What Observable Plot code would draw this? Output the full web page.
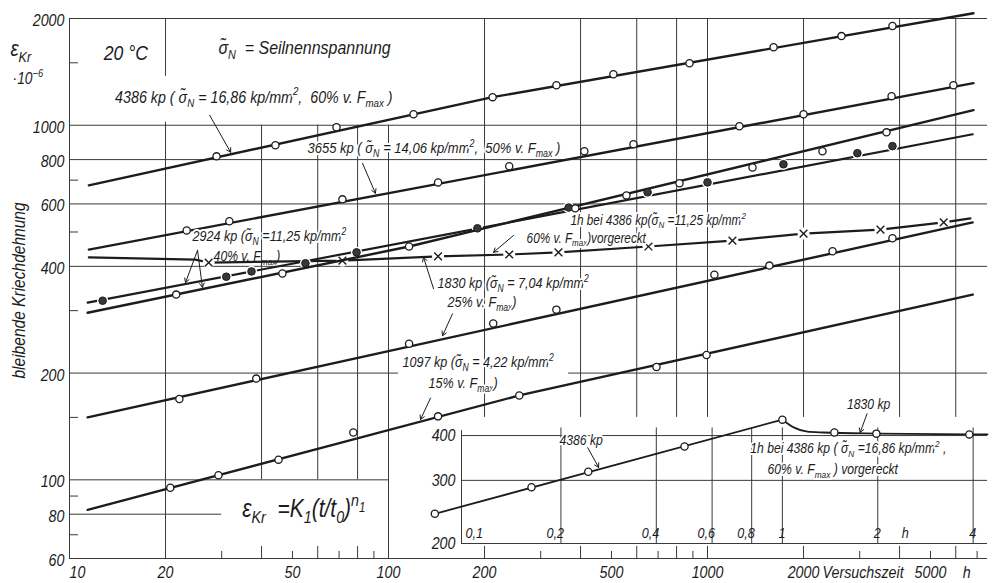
<!DOCTYPE html>
<html><head><meta charset="utf-8">
<script src="https://cdn.jsdelivr.net/npm/d3@7"></script>
<script src="https://cdn.jsdelivr.net/npm/@observablehq/plot@0.6"></script>
<style>
body{margin:0;background:#fff;}
#wrap{position:relative;width:994px;height:583px;overflow:hidden;}
#wrap svg{position:absolute;overflow:visible;}
</style></head><body><div id="wrap"></div>
<script>
// ---------- main chart data: [Versuchszeit t (h), Kriechdehnung eps (1e-6)] ----------
const s4386Points = [[28.9,817],[44.2,878],[68.7,987],[119.8,1074],[212,1200],[336,1297],[507,1393],[878,1496],[1611,1660],[2630,1784],[3800,1905]];
const s4386Line = [[11.5,677],[212,1200],[6820,2070]];
const s3655Points = [[23.3,505],[31.7,536],[71.7,618],[143,690],[239,766],[411,845],[586,884],[1259,993],[2000,1074],[3776,1208],[5900,1297]];
const s3655Line = [[11.5,446],[6820,1314]];
const s2924OpenPoints = [[21.6,333],[46.5,382],[116,455],[385,583],[557,634],[817,686],[1384,760],[2293,845],[3640,955]];
const s2924OpenLine = [[11.4,296],[116,455],[6820,1103]];
const s2924FilledPoints = [[12.7,320],[31.0,374],[37.2,387],[54.9,408],[79.4,438],[190,512],[367,586],[649,647],[1000,690],[1730,776],[2950,834],[3800,873]];
const s2924FilledLine = [[11.4,316],[6780,943]];
const s1830Points = [[22.1,169],[38.5,193],[116,242],[213,276],[336,302],[1051,379],[1563,402],[2466,441],[3800,480]];
const s1830Line = [[11.4,150],[6780,532]];
const s1097Points = [[20.7,95],[29.3,103],[45.2,114],[77.6,136],[143,151],[257,173],[692,208],[993,225]];
const s1097Line = [[11.4,82.3],[257,173],[6780,333]];
const s1830PreXPoints = [[27.3,410],[71.7,415],[143,427],[239,432],[341,438],[653,455],[1197,473],[2000,495],[3485,508],[5500,532]];
const s1830PreLine = [[11.5,424],[24.8,418],[27.3,410],[71.7,415],[143,427],[239,432],[341,438],[653,455],[1197,473],[2000,495],[3485,508],[5500,532],[6670,546]];

// ---------- inset data: [t (h), eps] ----------
const insetLoadPoints = [[0.080,242],[0.1615,287],[0.244,317],[0.491,373],[1.0,443]];
const insetLoadLine = [[0.080,242],[1.0,443]];
const insetHoldPoints = [[1.459,408],[1.98,405],[3.89,403]];
const insetHoldLine = [[1.0,443],[1.09,421],[1.2,410],[1.35,408],[2,405],[3.89,403],[4.44,403]];

// ---------- axes / ticks ----------
const xDomain = [10, 7546];
const yDomain = [60, 2000];
const yTickLabels = [60,80,100,200,400,600,800,1000,2000];
const xTickLabels = [20,50,100,200,500,1000,2000,5000];
const xFirstLabel = [10];
const bottomTicksTall = [40,60,80,200,400,600,800,1000,2000,4000,6000];
const bottomTicksShort = [30,50,70,90,300,500,700,900,3000,5000,7000];
const leftTicks = [70,90,150,300,500,700,1500];
const gridV = [
  {x:10,y1:60,y2:2000},{x:20,y1:1374,y2:2000},{x:20,y1:60,y2:1020},
  {x:40,y1:100,y2:1000},{x:60,y1:100,y2:1000},{x:80,y1:100,y2:1000},{x:100,y1:60,y2:1000},
  {x:200,y1:150,y2:2000},{x:400,y1:150,y2:2000},{x:600,y1:150,y2:2000},{x:800,y1:150,y2:2000},
  {x:1000,y1:150,y2:2000},{x:2000,y1:150,y2:2000},{x:4000,y1:150,y2:2000},{x:6000,y1:150,y2:2000}
];
const gridH = [
  {y:2000,x1:10,x2:7546},{y:1000,x1:10,x2:7546},{y:800,x1:10,x2:7546},{y:600,x1:10,x2:7546},
  {y:400,x1:10,x2:7546},{y:200,x1:10,x2:107.5},{y:200,x1:367,x2:7546},
  {y:100,x1:10,x2:100},{y:80,x1:10,x2:30},{y:60,x1:10,x2:7546}
];
const insetXDomain = [0.0971, 4.44];
const insetYDomain = [200, 455];
const insetGridV = [0.2,0.4,0.6,0.8,1,2,4];
const insetGridH = [200,300,400];
const insetXLabels = ["0,2","0,4","0,6","0,8","1","2","4"];
const insetYLabels = [200,300,400];

// ---------- annotations (anchored in data units) ----------
const labelsBig = [{t:13.9,e:1200,s:"4386 kp ( σ̃_{N} = 16,86 kp/mm^{2},  60% v. F_{max} )"}];
const labelsMid = [{t:55.7,e:861,s:"3655 kp ( σ̃_{N} = 14,06 kp/mm^{2},  50% v. F_{max} )"}];
const labelsStd = [
  {t:24.3,e:486,s:"2924 kp (σ̃_{N} =11,25 kp/mm^{2}"},
  {t:142.4,e:358,s:"1830 kp (σ̃_{N} = 7,04 kp/mm^{2}"},
  {t:153,e:316,s:"25% v. F_{max})"},
  {t:110.6,e:214,s:"1097 kp (σ̃_{N} = 4,22 kp/mm^{2}"},
  {t:133.5,e:187,s:"15% v. F_{max})"}
];
const labelsSmall = [
  {t:372,e:539,s:"1h bei 4386 kp(σ̃_{N} =11,25 kp/mm^{2}"},
  {t:271,e:480,s:"60% v. F_{max})vorgereckt"}
];
const plainLabels = [{t:28.3,e:427,s:"40% v. F_{max})"}];
const mainArrows = [
  [27.5,1067,32.0,839],[82.9,781,91.0,643],[25.2,444,23.1,360],[25.2,444,26.1,349],
  [246.5,489,213.4,438],[138.4,346,128.8,424],[158.7,294,147.7,255],[135.4,170,126.0,148]
];
const insetLabels = [
  {t:0.198,e:387,s:"4386 kp"},
  {t:1.60,e:488,s:"1830 kp"},
  {t:0.792,e:368,s:"1h bei 4386 kp ( σ̃_{N} =16,86 kp/mm^{2} ,"},
  {t:0.898,e:321,s:"60% v. F_{max} ) vorgereckt"}
];
const insetArrows = [[0.243,370,0.263,326],[1.85,460,1.76,408]];

const FONT = "'Liberation Sans',Arial,sans-serif";
const NARROW = 0.84; // horizontal compression emulating the narrow drafting lettering
const INK = "#1c1c1c", GRID = "#3a3a3a";
const T = {fontFamily: FONT, fontStyle: "italic", fill: INK};
const HALO = {stroke: "white", strokeWidth: 4, paintOrder: "stroke"};

const X = d => d[0], Y = d => d[1];
const lineOpt = {x: X, y: Y, stroke: INK, strokeWidth: 2.4};
const openDot = {x: X, y: Y, r: 3.6, fill: "white", stroke: INK, strokeWidth: 1.3};
const lbl = (data, size, extra = {}) => Plot.text(data, {...T, x: "t", y: "e", text: "s", textAnchor: "start", fontSize: size, ...extra});

const main = Plot.plot({
  width: 994, height: 583,
  marginLeft: 69, marginRight: 7, marginTop: 18, marginBottom: 25,
  style: {background: "transparent", overflow: "visible"},
  x: {type: "log", domain: xDomain, axis: null},
  y: {type: "log", domain: yDomain, axis: null},
  marks: [
    Plot.ruleX(gridV, {x: "x", y1: "y1", y2: "y2", stroke: GRID, strokeWidth: 1}),
    Plot.ruleY(gridH, {y: "y", x1: "x1", x2: "x2", stroke: GRID, strokeWidth: 1}),
    Plot.ruleX(bottomTicksTall, {x: d => d, y1: 60, y2: 64.9, stroke: GRID}),
    Plot.ruleX(bottomTicksShort, {x: d => d, y1: 60, y2: 62.8, stroke: GRID}),
    Plot.ruleY(leftTicks, {y: d => d, x1: 10, x2: 10.67, stroke: GRID}),
    Plot.line(s1830PreLine, {...lineOpt, strokeWidth: 2.2}),
    Plot.dot(s1830PreXPoints, {x: X, y: Y, r: 6, fill: "white"}),
    Plot.line(s2924FilledLine, {...lineOpt, strokeWidth: 2.2}),
    Plot.dot(s2924FilledPoints, {x: X, y: Y, r: 5.6, fill: "white"}),
    Plot.line(s4386Line, lineOpt),
    Plot.line(s3655Line, lineOpt),
    Plot.line(s2924OpenLine, lineOpt),
    Plot.line(s1830Line, lineOpt),
    Plot.line(s1097Line, lineOpt),
    Plot.dot(s1830PreXPoints, {x: X, y: Y, symbol: "times", r: 3.6, stroke: INK, strokeWidth: 1.4}),
    Plot.dot(s2924FilledPoints, {x: X, y: Y, r: 3.8, fill: "#383838", stroke: INK, strokeWidth: 1}),
    Plot.dot(s4386Points, openDot),
    Plot.dot(s3655Points, openDot),
    Plot.dot(s2924OpenPoints, openDot),
    Plot.dot(s1830Points, openDot),
    Plot.dot(s1097Points, openDot),
    Plot.arrow(mainArrows, {x1: d => d[0], y1: d => d[1], x2: d => d[2], y2: d => d[3], stroke: INK, strokeWidth: 1, headLength: 7}),
    lbl(labelsBig, 17, HALO),
    lbl(labelsMid, 15.5, HALO),
    lbl(labelsStd, 15, HALO),
    lbl(labelsSmall, 14, HALO),
    lbl(plainLabels, 14.5),
    lbl([{t:34.8,e:82.8,s:"ε_{Kr}  =K_{1}(t/t_{0})^{n}^_{1}"}], 25),
    lbl([{t:12.8,e:1597,s:"20 °C"}], 21),
    lbl([{t:29.3,e:1650,s:"σ̃_{N}  = Seilnennspannung"}], 19),
    lbl([{t:6.53,e:1640,s:"ε_{Kr}"}], 22),
    lbl([{t:6.63,e:1350,s:"·10^{−6}"}], 16.5),
    Plot.text([{t:6.97,e:342,s:"bleibende Kriechdehnung"}], {...T, x: "t", y: "e", text: "s", rotate: -90, fontSize: 18.5}),
    Plot.text(yTickLabels, {...T, x: 10, y: d => d, text: d => String(d), textAnchor: "end", dx: -5, dy: 2, fontSize: 17}),
    Plot.text(xTickLabels, {...T, x: d => d, y: 60, text: d => String(d), dy: 14, fontSize: 17}),
    Plot.text(xFirstLabel, {...T, x: d => d, y: 60, text: d => String(d), textAnchor: "start", dy: 14, fontSize: 17}),
    lbl([{t:2293,e:60,s:"Versuchszeit"}], 17, {dy: 14}),
    Plot.text([{t:6500,e:60,s:"h"}], {...T, x: "t", y: "e", text: "s", dy: 14, fontSize: 17})
  ]
});

const inset = Plot.plot({
  width: 574, height: 175,
  marginLeft: 41, marginRight: 7, marginTop: 30, marginBottom: 17,
  style: {background: "transparent", overflow: "visible"},
  x: {type: "log", domain: insetXDomain, axis: null},
  y: {type: "log", domain: insetYDomain, axis: null},
  marks: [
    Plot.ruleX(insetGridV, {x: d => d, y1: 200, y2: 420, stroke: GRID, strokeWidth: 1}),
    Plot.ruleX([insetXDomain[0]], {x: d => d, y1: 200, y2: 413, stroke: GRID, strokeWidth: 1}),
    Plot.ruleY(insetGridH, {y: d => d, x1: insetXDomain[0], x2: insetXDomain[1], stroke: GRID, strokeWidth: 1}),
    Plot.line(insetLoadLine, {...lineOpt, strokeWidth: 1.8}),
    Plot.line(insetHoldLine, {...lineOpt, strokeWidth: 1.8, curve: "monotone-x"}),
    Plot.dot(insetLoadPoints, openDot),
    Plot.dot(insetHoldPoints, openDot),
    Plot.arrow(insetArrows, {x1: d => d[0], y1: d => d[1], x2: d => d[2], y2: d => d[3], stroke: INK, strokeWidth: 1, headLength: 7}),
    lbl(insetLabels, 14.5, HALO),
    Plot.text(insetYLabels, {...T, x: insetXDomain[0], y: d => d, text: d => String(d), textAnchor: "end", dx: -6, fontSize: 17}),
    Plot.text(["0,1"], {...T, x: 0.1, y: 213, text: d => d, textAnchor: "start", fontSize: 15}),
    Plot.text(insetXLabels, {...T, x: d => +d.replace(",", "."), y: 213, text: d => d, textAnchor: "end", dx: 3, fontSize: 15}),
    Plot.text(["h"], {...T, x: 2.44, y: 213, text: d => d, fontSize: 15})
  ]
});

const wrap = document.getElementById("wrap");
main.style.left = "0px"; main.style.top = "0px";
inset.style.left = "420px"; inset.style.top = "385px";
wrap.appendChild(main);
wrap.appendChild(inset);

// sub/superscript markup -> tspans, then narrow the lettering about its anchor
function richify(svg) {
  svg.querySelectorAll("text").forEach(el => {
    const s = el.textContent;
    if (!/[_^]\{/.test(s)) return;
    const fs = parseFloat(getComputedStyle(el).fontSize) || 12;
    const parts = s.split(/(\^_\{[^}]*\}|_\{[^}]*\}|\^\{[^}]*\})/).filter(p => p !== "");
    while (el.firstChild) el.removeChild(el.firstChild);
    let cur = 0;
    for (const p of parts) {
      let txt = p, shift = 0, size = 1;
      if (p.startsWith("^_{")) { txt = p.slice(3, -1); shift = -0.2; size = 0.55; }
      else if (p.startsWith("_{")) { txt = p.slice(2, -1); shift = 0.25; size = 0.68; }
      else if (p.startsWith("^{")) { txt = p.slice(2, -1); shift = -0.42; size = 0.68; }
      const t = document.createElementNS("http://www.w3.org/2000/svg", "tspan");
      t.textContent = txt;
      if (shift !== cur) t.setAttribute("dy", ((shift - cur) * fs).toFixed(2));
      if (size !== 1) t.setAttribute("font-size", (size * fs).toFixed(2));
      cur = shift;
      el.appendChild(t);
    }
  });
  svg.querySelectorAll("g[stroke='white']").forEach(g => g.setAttribute("paint-order", "stroke"));
  svg.querySelectorAll("text").forEach(el => {
    const tr = el.getAttribute("transform") || "";
    const x0 = parseFloat(el.getAttribute("x")) || 0;
    el.setAttribute("transform", `${tr} translate(${x0},0) scale(${NARROW},1) translate(${-x0},0)`.trim());
  });
}
richify(main);
richify(inset);
</script></body></html>
